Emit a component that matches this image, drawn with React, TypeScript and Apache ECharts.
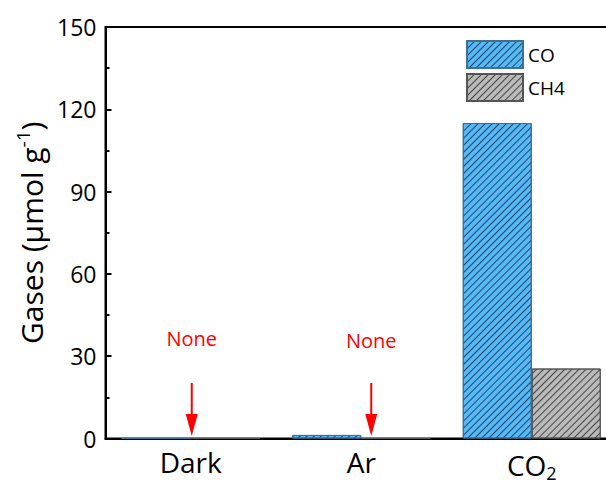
import React, { useEffect, useRef } from "react";
import * as echarts from "echarts";

const categories = ["Dark", "Ar", "CO2"];
const coValues = [0, 1.3, 115];
const ch4Values = [0, 0, 25.5];
const yTicks = { min: 0, max: 150, interval: 30 };
const noneNotes = [
  { cat: "Dark", arrowY: 10.6, textY: 36.6, dx: 1 },
  { cat: "Ar", arrowY: 10.6, textY: 35.8, dx: 10 },
];

const FONT = "Open Sans";
const BAR_W = 69;
const arrowPath = "path://M5,0 L7,0 L7,31 L12,31 L6,53 L0,31 L5,31 Z";

const hatch = (c: string) => ({
  symbol: "rect",
  symbolSize: 1,
  dashArrayX: [1, 0],
  dashArrayY: [1, 4],
  rotation: -Math.PI / 4,
  color: c,
});

export default function App() {
  const ref = useRef<HTMLDivElement>(null);
  useEffect(() => {
    if (!ref.current) return;
    const chart = echarts.init(ref.current, undefined, { renderer: "svg" });
    const markData: any[] = [];
    // markPoint of a bar series is anchored at the bar centre (CO bar = category centre - BAR_W/2)
    noneNotes.forEach((n) => {
      const off = n.dx + BAR_W / 2;
      markData.push({
        coord: [n.cat, n.arrowY],
        symbol: arrowPath,
        symbolSize: [12, 53],
        symbolOffset: [off, 0],
        itemStyle: { color: "#ff0000", borderWidth: 0 },
        label: { show: false },
      });
      markData.push({
        coord: [n.cat, n.textY],
        symbol: "rect",
        symbolSize: 1,
        symbolOffset: [off, 0],
        itemStyle: { color: "rgba(0,0,0,0)", borderWidth: 0 },
        label: {
          show: true,
          position: "inside",
          formatter: "None",
          color: "#ff0000",
          fontSize: 20,
          fontFamily: FONT,
        },
      });
    });
    chart.setOption({
      animation: false,
      grid: {
        left: 105.5,
        top: 27,
        width: 511.5,
        height: 411.5,
        show: true,
        borderColor: "#000",
        borderWidth: 2,
      },
      legend: {
        orient: "vertical",
        left: 466,
        top: 40,
        padding: 0,
        itemWidth: 56,
        itemHeight: 27,
        itemGap: 4,
        icon: "rect",
        textStyle: { fontSize: 19, fontFamily: FONT, color: "#000" },
        data: ["CO", "CH4"],
      },
      xAxis: {
        type: "category",
        data: categories,
        axisLine: { lineStyle: { color: "#000", width: 2 } },
        axisTick: { inside: true, alignWithLabel: true, length: 5, lineStyle: { color: "#000", width: 2 } },
        axisLabel: {
          interval: 0,
          hideOverlap: false,
          fontSize: 28,
          fontFamily: FONT,
          color: "#000",
          margin: 9,
          formatter: (v: string) => (v === "CO2" ? "{a|CO}{s|2}" : "{a|" + v + "}"),
          rich: {
            a: { fontSize: 28, fontFamily: FONT, color: "#000" },
            s: { fontSize: 18, fontFamily: FONT, color: "#000", padding: [16, 0, 0, 0] },
          },
        },
      },
      yAxis: {
        type: "value",
        min: yTicks.min,
        max: yTicks.max,
        interval: yTicks.interval,
        name: "{a|Gases (μmol g}{s|-1}{a|)}",
        nameLocation: "middle",
        nameGap: 48,
        nameTextStyle: {
          rich: {
            a: { fontSize: 30, fontFamily: FONT, color: "#000" },
            s: { fontSize: 19, fontFamily: FONT, color: "#000", padding: [0, 0, 16, 0] },
          },
        },
        axisLine: { show: true, lineStyle: { color: "#000", width: 2 } },
        axisTick: { show: true, inside: true, length: 6, lineStyle: { color: "#000", width: 2 } },
        minorTick: { show: true, splitNumber: 2, length: 4, lineStyle: { color: "#000", width: 2 } },
        splitLine: { show: false },
        axisLabel: { fontSize: 23, fontFamily: FONT, color: "#000", margin: 9 },
      },
      series: [
        {
          name: "CO",
          type: "bar",
          data: coValues,
          barWidth: BAR_W,
          barGap: "0%",
          itemStyle: {
            color: "#55b9f6",
            borderColor: "#3f6f93",
            borderWidth: 1,
            decal: hatch("rgba(20,40,70,0.8)"),
          },
          markPoint: { data: markData, silent: true },
        },
        {
          name: "CH4",
          type: "bar",
          data: ch4Values,
          barWidth: BAR_W,
          barGap: "0%",
          itemStyle: {
            color: "#bababa",
            borderColor: "#555",
            borderWidth: 1,
            decal: hatch("rgba(40,40,40,0.8)"),
          },
        },
      ],
    });
    return () => chart.dispose();
  }, []);
  return (
    <div style={{ position: "fixed", left: 0, top: 0, width: 606, height: 486, overflow: "hidden", background: "#fff" }}>
      <div ref={ref} style={{ width: 620, height: 486 }} />
    </div>
  );
}
